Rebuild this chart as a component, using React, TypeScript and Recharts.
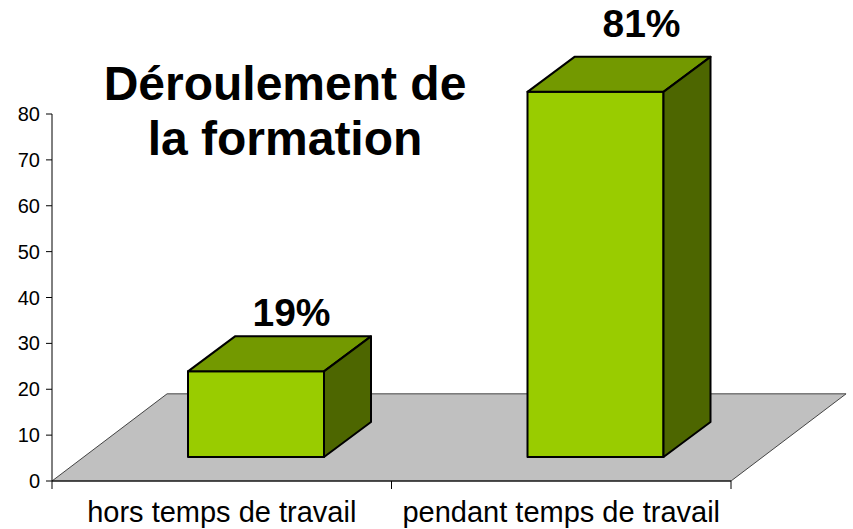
import React from "react";
import { ComposedChart, Bar, Line, XAxis, YAxis, ReferenceArea, LabelList } from "recharts";

const categories = ["hors temps de travail", "pendant temps de travail"];
const percentages = [19, 81];
const yTicks = [0, 10, 20, 30, 40, 50, 60, 70, 80];
const floorDepth = 19;
const titleLines = ["Déroulement de", "la formation"];

const tableRows = categories.map((name, i) => ({ name, value: percentages[i], floor: floorDepth }));

const FONT = "'Liberation Sans', Arial, sans-serif";
const DX = 47;
const DY = 35;
const BASE_LIFT = 24;
const HEIGHT_RATIO = 0.995;
const SHIFT = 34;
const LABEL_DX = [35.5, 46];
const LABEL_GAP = [10, 20];

const Floor = (p: any) => {
  const { x, y, width, height } = p;
  const dx = height * 1.32;
  const pts = [
    [x, y + height],
    [x + width, y + height],
    [x + width + dx, y],
    [x + dx, y],
  ].map((q) => q.join(",")).join(" ");
  return <polygon points={pts} fill="#c0c0c0" stroke="#444" strokeWidth={1} />;
};

const Box = (p: any) => {
  const { x, y, width, height } = p;
  const left = x + SHIFT;
  const right = left + width;
  const bottom = y + height - BASE_LIFT;
  const top = bottom - height * HEIGHT_RATIO;
  const stroke = { stroke: "#000", strokeWidth: 2, strokeLinejoin: "round" as const };
  return (
    <g>
      <polygon points={`${left},${top} ${right},${top} ${right},${bottom} ${left},${bottom}`} fill="#99cc00" {...stroke} />
      <polygon points={`${left},${top} ${left + DX},${top - DY} ${right + DX},${top - DY} ${right},${top}`} fill="#739900" {...stroke} />
      <polygon points={`${right},${top} ${right + DX},${top - DY} ${right + DX},${bottom - DY} ${right},${bottom}`} fill="#4d6600" {...stroke} />
    </g>
  );
};

const BarLabel = (p: any) => {
  const { x, y, width, height, value, index } = p;
  const top = y + height - BASE_LIFT - height * HEIGHT_RATIO;
  return (
    <text x={x + SHIFT + width / 2 + LABEL_DX[index]} y={top - DY - LABEL_GAP[index]} textAnchor="middle" fontFamily={FONT} fontWeight="bold" fontSize={39} fill="#000">
      {`${value}%`}
    </text>
  );
};

const CategoryTick = (p: any) => {
  const { x, y, payload } = p;
  const half = payload.offset ?? 170;
  return (
    <g>
      <line x1={x - half} x2={x - half} y1={y - 8} y2={y} stroke="#000" />
      <line x1={x + half} x2={x + half} y1={y - 8} y2={y} stroke="#000" />
      <text x={x} y={y + 33} textAnchor="middle" fontFamily={FONT} fontSize={29} fill="#000">
        {payload.value}
      </text>
    </g>
  );
};

export default function App() {
  return (
    <div style={{ position: "absolute", left: 0, top: 0, width: 853, height: 529, background: "#fff" }}>
      <ComposedChart
        width={853}
        height={529}
        data={tableRows}
        barCategoryGap={0}
        margin={{ top: 114, right: 122, bottom: 0, left: 0 }}
      >
        <XAxis
          dataKey="name"
          interval={0}
          tickLine={false}
          axisLine={{ stroke: "#000" }}
          tick={<CategoryTick />}
          height={48}
        />
        <YAxis
          yAxisId="scale"
          domain={[0, 80]}
          ticks={yTicks}
          width={52}
          tickLine={{ stroke: "#000" }}
          tickSize={6}
          tickMargin={6}
          axisLine={{ stroke: "#000" }}
          tick={{ fontFamily: FONT, fontSize: 20, fill: "#000" }}
        />
        <YAxis yAxisId="bars" orientation="right" hide domain={[0, 81]} />
        <ReferenceArea yAxisId="scale" y1={0} y2={floorDepth} ifOverflow="visible" shape={<Floor />} />
        <Line yAxisId="scale" dataKey="floor" stroke="none" dot={false} activeDot={false} isAnimationActive={false} />
        <Bar yAxisId="bars" dataKey="value" barSize={136} isAnimationActive={false} shape={<Box />}>
          <LabelList dataKey="value" content={<BarLabel />} />
        </Bar>
      </ComposedChart>
      <div
        style={{
          position: "absolute",
          left: 85,
          top: 56,
          width: 400,
          textAlign: "center",
          fontFamily: FONT,
          fontWeight: "bold",
          fontSize: 48,
          lineHeight: "55px",
          color: "#000",
        }}
      >
        {titleLines.map((line) => (
          <div key={line}>{line}</div>
        ))}
      </div>
    </div>
  );
}
